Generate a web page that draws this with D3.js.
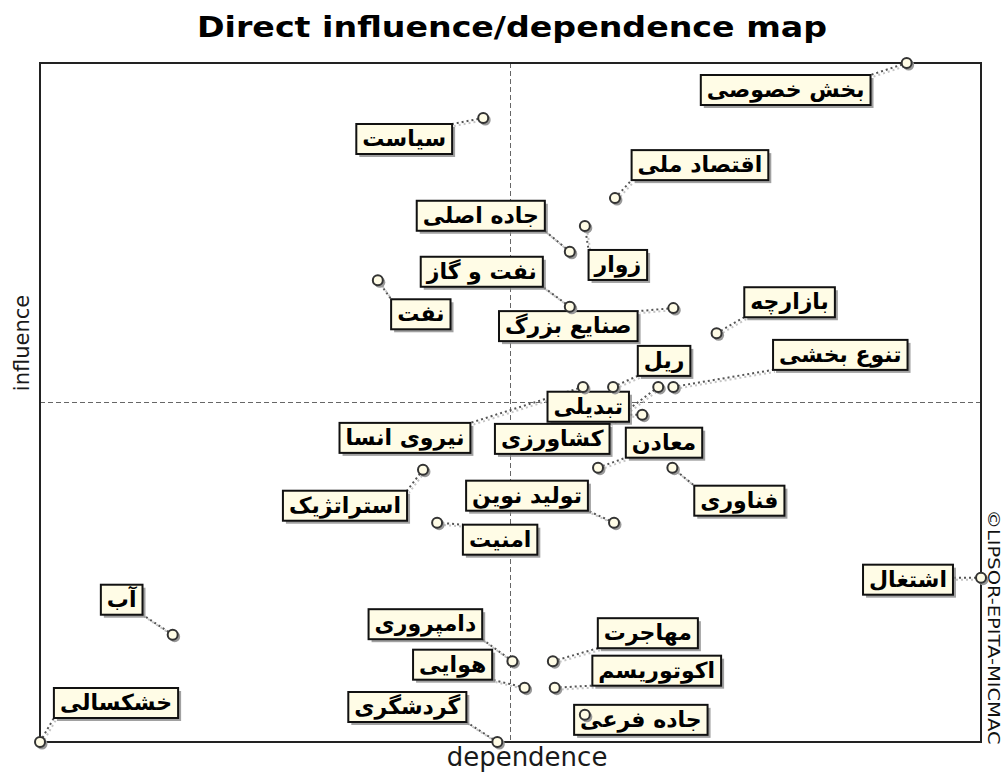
<!DOCTYPE html>
<html>
<head>
<meta charset="utf-8">
<script src="https://cdn.jsdelivr.net/npm/d3@7"></script>
<style>
  html, body { margin: 0; padding: 0; background: #fff; }
  svg { display: block; }
  .title { font-family: "DejaVu Sans", Verdana, sans-serif; font-weight: bold; font-size: 29px; fill: #000; }
  .axis-label { font-family: "DejaVu Sans", Verdana, sans-serif; fill: #1a1a1a; }
  .copy { font-family: "DejaVu Sans", Verdana, sans-serif; font-size: 15px; fill: #111; }
  .lbl { font-family: "DejaVu Sans", sans-serif; font-weight: bold; font-size: 22px; fill: #000; }
</style>
</head>
<body>
<div id="container" style="width:1007px;height:773px">
<svg></svg>
</div>
<script>
'use strict';

// variables (labels as shown in the map)
var names = ["بخش خصوصی", "سیاست", "اقتصاد ملی", "زوار", "جاده اصلی", "نفت", "نفت و گاز",
  "صنایع بزرگ", "بازارچه", "نیروی انسا", "ریل", "تبدیلی", "تنوع بخشی", "کشاورزی",
  "معادن", "فناوری", "تولید نوین", "استراتژیک", "امنیت", "اشتغال", "آب", "خشکسالی",
  "دامپروری", "هوایی", "گردشگری", "مهاجرت", "اکوتوریسم", "جاده فرعی"];

// dependence (x) and influence (y)
var dependence = [92.1, 47.1, 61.1, 57.9, 56.3, 35.9, 56.3, 67.3, 71.9, 57.7, 60.9, 64.0, 67.3, 65.7,
  59.3, 67.2, 61.0, 40.7, 42.2, 100, 14.1, 0, 50.2, 51.5, 48.6, 54.5, 54.7, 57.9];
var influence = [100, 91.9, 80.1, 76.0, 72.2, 68.0, 64.1, 63.9, 60.2, 52.3, 52.3, 48.2, 52.3, 52.3,
  40.4, 40.4, 32.3, 40.1, 32.3, 24.2, 15.8, 0, 11.9, 8.0, 0, 11.9, 8.0, 4.0];

var depMean = 50;
var infMean = 50;

// where each label box sits, relative to its point (px)
var labelDx = [-121, -79, 85, 33, -89, 43, -88, -105, 73, -178, 51, -54, 167, -106,
  66, 67, -87, -78, 63, -73, -51, 76, -87, -72, -90, 95, 102, 56];
var labelDy = [27, 21, -33, 39, -36, 34, -35, 18, -31, 51, -26, -8, -32, 52,
  -25, 33, -27, 36, 17, 2, -35, -39, -37, -23, -35, -28, -17, 5];

var width = 1007, height = 773;
var svg = d3.select("svg").attr("width", width).attr("height", height);

var x = d3.scaleLinear().domain([0, 100]).range([40, 981]);
var y = d3.scaleLinear().domain([0, 100]).range([742, 63]);

var data = names.map(function (n, i) {
  return { name: n, dep: dependence[i], inf: influence[i], dx: labelDx[i], dy: labelDy[i] };
});

// title
svg.append("text").attr("class", "title")
  .attr("x", 512).attr("y", 37).attr("text-anchor", "middle")
  .attr("textLength", 630).attr("lengthAdjust", "spacingAndGlyphs")
  .text("Direct influence/dependence map");

// mean lines
svg.append("line")
  .attr("x1", x(depMean)).attr("x2", x(depMean))
  .attr("y1", y(100)).attr("y2", y(0))
  .attr("stroke", "#666").attr("stroke-width", 1).attr("stroke-dasharray", "5,3");
svg.append("line")
  .attr("x1", x(0)).attr("x2", x(100))
  .attr("y1", y(infMean)).attr("y2", y(infMean))
  .attr("stroke", "#666").attr("stroke-width", 1).attr("stroke-dasharray", "5,3");

// frame
svg.append("rect")
  .attr("x", x(0)).attr("y", y(100))
  .attr("width", x(100) - x(0)).attr("height", y(0) - y(100))
  .attr("fill", "none").attr("stroke", "#222").attr("stroke-width", 2);

// axis titles
svg.append("text").attr("class", "axis-label")
  .attr("transform", "translate(29,343) rotate(-90)")
  .attr("text-anchor", "middle").style("font-size", "21px")
  .text("influence");
svg.append("text").attr("class", "axis-label")
  .attr("x", 527).attr("y", 766).attr("text-anchor", "middle")
  .style("font-size", "26px")
  .text("dependence");
svg.append("text").attr("class", "copy")
  .attr("transform", "translate(988,627) rotate(90)")
  .attr("text-anchor", "middle")
  .attr("textLength", 235).attr("lengthAdjust", "spacingAndGlyphs")
  .text("©LIPSOR-EPITA-MICMAC");

// layers: leaders, label boxes, points on top
var leaders = svg.append("g").attr("class", "leaders");
var labels = svg.append("g").attr("class", "labels");
var pts = svg.append("g").attr("class", "points");

var lab = labels.selectAll("g").data(data).enter().append("g")
  .attr("transform", function (d) {
    return "translate(" + (x(d.dep) + d.dx) + "," + (y(d.inf) + d.dy) + ")";
  });

lab.append("text").attr("class", "lbl")
  .attr("text-anchor", "middle").attr("y", 7)
  .text(function (d) { return d.name; })
  .each(function (d) {
    d.w = this.getComputedTextLength() + 12;
  });

lab.insert("rect", "text")
  .attr("x", function (d) { return -d.w / 2 + 3; }).attr("y", -15 + 3)
  .attr("width", function (d) { return d.w; }).attr("height", 30)
  .attr("fill", "#8a8a8a").attr("opacity", 0.8);
lab.insert("rect", "text")
  .attr("x", function (d) { return -d.w / 2; }).attr("y", -15)
  .attr("width", function (d) { return d.w; }).attr("height", 30)
  .attr("fill", "#fffce6").attr("stroke", "#111").attr("stroke-width", 2);

// dotted leaders from point to nearest edge of its box
function boxEnd(d) {
  var cx = x(d.dep) + d.dx, cy = y(d.inf) + d.dy;
  var px = x(d.dep), py = y(d.inf);
  var ex = Math.max(cx - d.w / 2, Math.min(cx + d.w / 2, px));
  var ey = Math.max(cy - 15, Math.min(cy + 15, py));
  return [ex, ey];
}

leaders.selectAll("line.sh").data(data).enter().append("line")
  .attr("class", "sh")
  .attr("x1", function (d) { return x(d.dep) + 2; })
  .attr("y1", function (d) { return y(d.inf) + 2; })
  .attr("x2", function (d) { return boxEnd(d)[0] + 2; })
  .attr("y2", function (d) { return boxEnd(d)[1] + 2; })
  .attr("stroke", "#c4c4c4").attr("stroke-width", 2).attr("stroke-dasharray", "2,3");
leaders.selectAll("line.ld").data(data).enter().append("line")
  .attr("class", "ld")
  .attr("x1", function (d) { return x(d.dep); })
  .attr("y1", function (d) { return y(d.inf); })
  .attr("x2", function (d) { return boxEnd(d)[0]; })
  .attr("y2", function (d) { return boxEnd(d)[1]; })
  .attr("stroke", "#555").attr("stroke-width", 2).attr("stroke-dasharray", "2,3");

// points
pts.selectAll("circle.sh").data(data).enter().append("circle")
  .attr("class", "sh")
  .attr("cx", function (d) { return x(d.dep) + 2; })
  .attr("cy", function (d) { return y(d.inf) + 2; })
  .attr("r", 5.5).attr("fill", "#999");
pts.selectAll("circle.pt").data(data).enter().append("circle")
  .attr("class", "pt")
  .attr("cx", function (d) { return x(d.dep); })
  .attr("cy", function (d) { return y(d.inf); })
  .attr("r", 5).attr("fill", "#fffce6").attr("stroke", "#333").attr("stroke-width", 2);
</script>
</body>
</html>
